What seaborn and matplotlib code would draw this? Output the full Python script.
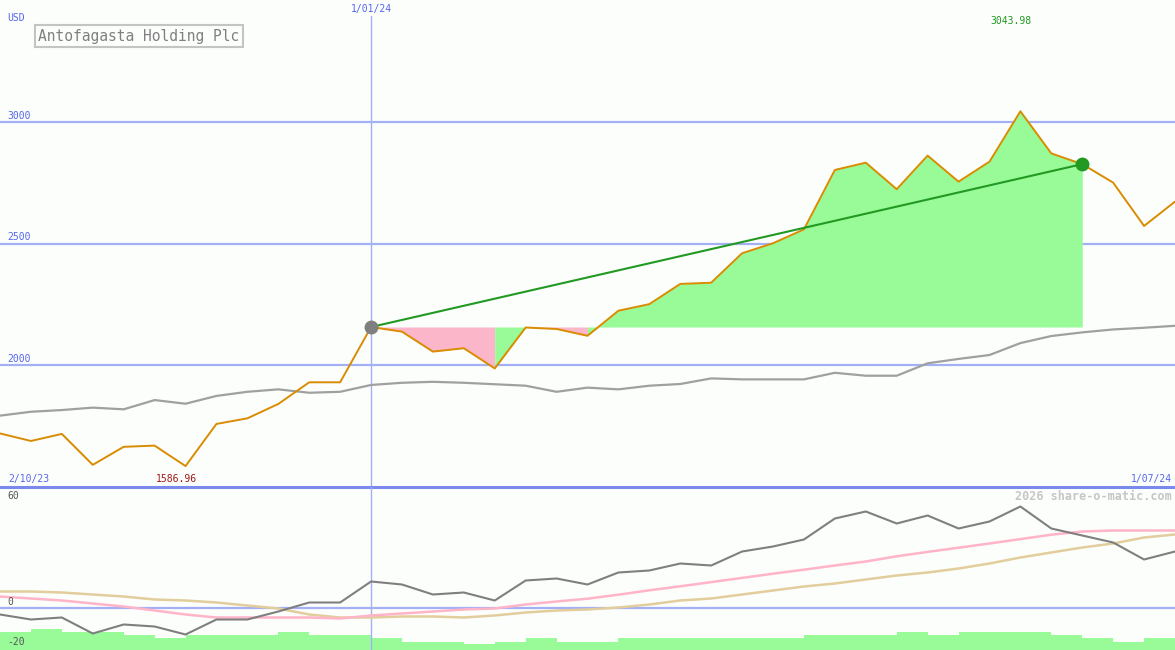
import numpy as np
import pandas as pd
import matplotlib
matplotlib.use('Agg')
import matplotlib.pyplot as plt
import seaborn as sns

# weekly closes, 2 Oct 2023 .. 1 Jul 2024 (USD)
price = [1721, 1690, 1719, 1592, 1666, 1671, 1586.96, 1760, 1783, 1842, 1931, 1931,
         2158, 2139, 2057, 2071, 1988, 2156, 2150, 2122, 2225, 2252, 2335, 2340,
         2461, 2502, 2559, 2803, 2833, 2724, 2862, 2755, 2837, 3043.98, 2871, 2827,
         2751, 2573, 2673]
avg_line = [1794, 1810, 1817, 1827, 1820, 1858, 1843, 1875, 1892, 1902, 1888, 1892,
            1920, 1929, 1933, 1929, 1923, 1917, 1892, 1909, 1902, 1917, 1924, 1947,
            1943, 1943, 1943, 1970, 1958, 1958, 2009, 2027, 2043, 2092, 2121, 2136,
            2148, 2155, 2163]
# lower panel indicators
mom = [-3.5, -6, -5, -13, -8.5, -9.5, -13.5, -6, -6, -2, 2.5, 2.5, 13, 11.5, 6.5, 7.5,
       3.5, 13.5, 14.5, 11.5, 17.5, 18.5, 22, 21, 28, 30.5, 34, 44.5, 48, 42, 46, 39.5,
       43, 50.5, 39.5, 36, 32.5, 24, 28]
pink_ma = [5.5, 4.5, 3.5, 2, 0.5, -1.5, -3.5, -5, -5, -5, -5, -5.5, -4, -3, -2, -1, -0.5,
           1.5, 3, 4.4, 6.4, 8.6, 10.6, 12.7, 14.8, 16.9, 18.9, 21, 23, 25.6, 27.8, 29.9,
           32, 34.2, 36.4, 38, 38.5, 38.5, 38.5]
tan_ma = [8, 8, 7.5, 6.5, 5.5, 4, 3.5, 2.5, 1, -0.5, -3.5, -5, -5, -4.5, -4.5, -5, -4,
          -2.5, -1.5, -1, 0, 1.5, 3.5, 4.5, 6.5, 8.5, 10.5, 12, 14, 16, 17.5, 19.5, 22,
          25, 27.5, 30, 32, 35, 36.5]
bars = [-12, -10.5, -12, -12, -13.5, -15, -13.5, -13.5, -13.5, -12, -13.5, -13.5, -15,
        -17, -17, -18.3, -17, -15, -17, -17, -15, -15, -15, -15, -15, -15, -13.5, -13.5,
        -13.5, -12, -13.5, -12, -12, -12, -13.5, -15, -17, -15]
# fill colour runs between start (week 12) and end (week 35) of the trend
fill_runs = [(12, 16, 'pink'), (16, 17, 'green'), (17, 19, 'pink'), (19, 35, 'green')]

start_i, end_i = 12, 35
x = np.arange(len(price))
df = pd.DataFrame({'x': x, 'price': price, 'avg': avg_line,
                   'mom': mom, 'pink': pink_ma, 'tan': tan_ma})

sns.set_theme(style='white')
plt.rcParams['font.family'] = ['DejaVu Sans Mono']

bg = '#fcfefc'
grid_c = '#a4b0f4'
blue_txt = '#5566ee'
low_bottom = -21.25

fig = plt.figure(figsize=(11.75, 6.5), dpi=100, facecolor=bg)
ax = fig.add_axes([0, 163 / 650, 1, 487 / 650])
axl = fig.add_axes([0, 0, 1, 163 / 650])
for a in (ax, axl):
    a.set_facecolor(bg)
    a.set_axis_off()
    a.set_xlim(0, len(price) - 1)
ax.set_ylim(1501, 3501)

# upper panel
for lvl in (2000, 2500, 3000):
    ax.axhline(lvl, color=grid_c, lw=1.6, zorder=1)
    ax.text(0.23, lvl + 6, str(lvl), color=blue_txt, fontsize=7, va='bottom')
ax.axvline(start_i, ymax=0.967, color=grid_c, lw=1, zorder=1)

base = price[start_i]
for a0, a1, c in fill_runs:
    ax.fill_between(x[a0:a1 + 1], base, price[a0:a1 + 1],
                    color='#98fb98' if c == 'green' else '#fbb6c9', lw=0, zorder=2)

sns.lineplot(data=df, x='x', y='avg', ax=ax, color='#a0a0a0', lw=1.6, zorder=3)
sns.lineplot(data=df, x='x', y='price', ax=ax, color='#d98c00', lw=1.4, zorder=4)
ax.plot([start_i, end_i], [price[start_i], price[end_i]], color='#229922', lw=1.5, zorder=5)
ax.plot(start_i, price[start_i], 'o', color='#7f7f7f', ms=9, zorder=6)
ax.plot(end_i, price[end_i], 'o', color='#229922', ms=9, zorder=6)

ax.text(0.23, 3405, 'USD', color=blue_txt, fontsize=7, va='bottom')
ax.text(1.23, 3353, 'Antofagasta Holding Plc', color='#808080', fontsize=10.5,
        va='center', bbox=dict(facecolor=bg, edgecolor='#c4c4c4', lw=1.5, pad=2.5))
ax.text(start_i, 3486, '1/01/24', color=blue_txt, fontsize=7, ha='center', va='top')
i_max = int(np.argmax(price))
i_min = int(np.argmin(price))
ax.text(i_max - 0.3, 3415, f'{price[i_max]:.2f}', color='#229922', fontsize=7,
        ha='center', va='center')
ax.text(i_min - 0.3, 1534, f'{price[i_min]:.2f}', color='#a01818', fontsize=7,
        ha='center', va='center')
ax.text(0.26, 1534, '2/10/23', color=blue_txt, fontsize=7, va='center')
ax.text(37.9, 1534, '1/07/24', color=blue_txt, fontsize=7, ha='right', va='center')

# lower panel
heights = [b - low_bottom for b in bars]
axl.bar(x[:-1], heights, width=1, align='edge', bottom=low_bottom,
        color='#98fb98', lw=0, zorder=1)
axl.set_ylim(low_bottom, 60.25)
axl.axhline(0, color=grid_c, lw=1.6, zorder=2)
axl.axhline(60.25, color='#7b88ec', lw=2.2, zorder=2, clip_on=False)
axl.axvline(start_i, color=grid_c, lw=1, zorder=2)
sns.lineplot(data=df, x='x', y='tan', ax=axl, color='#e2cd9c', lw=1.8, zorder=3)
sns.lineplot(data=df, x='x', y='pink', ax=axl, color='#ffb4c8', lw=1.8, zorder=3)
sns.lineplot(data=df, x='x', y='mom', ax=axl, color='#7f7f7f', lw=1.5, zorder=4)
axl.text(0.23, 55.7, '60', color='#555555', fontsize=7, va='center')
axl.text(0.23, 2.75, '0', color='#555555', fontsize=7, va='center')
axl.text(0.23, -17.25, '-20', color='#555555', fontsize=7, va='center')
axl.text(37.9, 55.7, '2026 share-o-matic.com', color='#c6c6c6', fontsize=8.5,
         fontweight='bold', ha='right', va='center')

fig.savefig('out.png', dpi=100, facecolor=bg)
